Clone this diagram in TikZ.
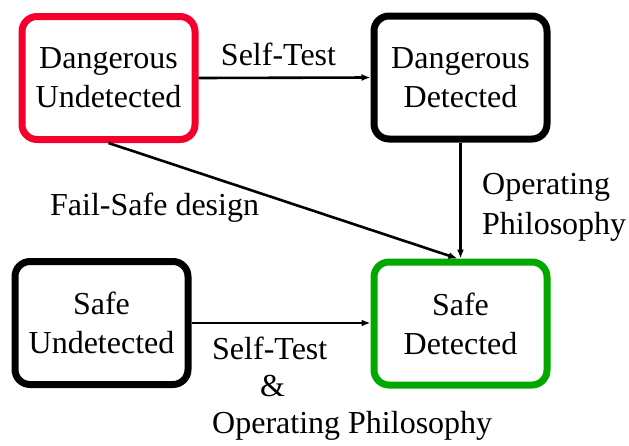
\documentclass[tikz,border=0pt]{standalone}
\usepackage{fontspec}
\setmainfont{Liberation Serif}
\usetikzlibrary{arrows.meta}
\definecolor{statered}{RGB}{245,0,45}
\definecolor{stategreen}{RGB}{0,168,0}
\tikzset{
  statebox/.style={draw=black, line width=7pt, rounded corners=15pt, fill=white,
    minimum width=173pt, minimum height=123pt, align=center, inner sep=0pt,
    font=\fontsize{32}{39}\selectfont},
  transition/.style={line width=2.6pt, -{Latex[length=9pt,width=7pt]}},
  lbl/.style={inner sep=0pt, font=\fontsize{32}{40}\selectfont}
}
\begin{document}
\begin{tikzpicture}[x=1pt,y=-1pt]
  \useasboundingbox (0,0) rectangle (629,445);

  % the four states
  \node[statebox, draw=statered] (du) at (108.5,78)   {Dangerous\\Undetected};
  \node[statebox]                (dd) at (460.5,77.5) {Dangerous\\Detected};
  \node[statebox]                (su) at (101.5,323)  {Safe\\Undetected};
  \node[statebox, draw=stategreen] (sd) at (460.5,323.5) {Safe\\Detected};

  % transitions
  \draw[transition] (du.east) -- (dd.west);
  \draw[transition] (dd.south) -- (sd.north);
  \draw[transition] (du.south) -- ([xshift=-3pt]sd.north);
  \draw[transition] (su.east) -- (su.east -| sd.west);

  % transition labels
  \node[lbl, anchor=base] (l1) at (278.5,65) {Self-Test};
  \node[lbl, anchor=base west] (l2) at (50,215) {Fail-Safe design};
  \node[lbl, anchor=north west, align=left] (l3) at (482,173) {Operating\\Philosophy};
  \node[lbl, anchor=north west, align=left, font=\fontsize{32}{37}\selectfont] (l4) at (212,337)
    {Self-Test\\\hspace*{48pt}\&\\Operating Philosophy};
\end{tikzpicture}
\end{document}
